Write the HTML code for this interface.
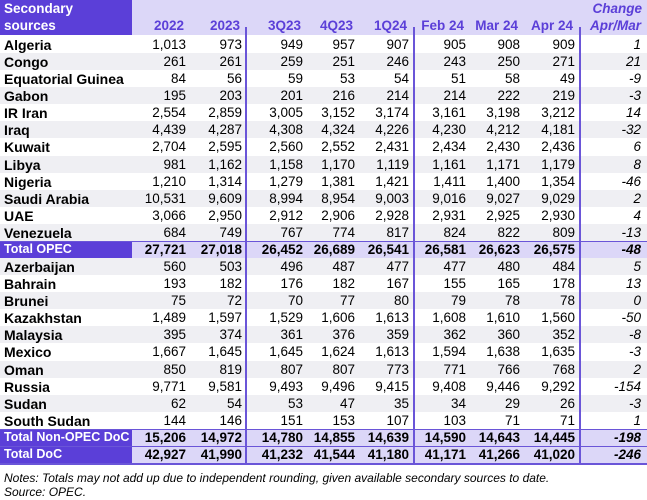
<!DOCTYPE html>
<html><head><meta charset="utf-8"><style>
body{margin:0;width:647px;height:500px;background:#fff;font-family:"Liberation Sans",Arial,sans-serif;position:relative;overflow:hidden}
.a{position:absolute;white-space:nowrap}
#hdr{position:absolute;left:0;top:0;width:647px;height:35px;background:#dcd7f8}
#hdr1{position:absolute;left:0;top:0;width:132px;height:35px;background:#5b3fd8}
.h{color:#5b3fd8;font-weight:bold;font-size:13.5px}
.row{position:absolute;left:0;width:647px}
.nm{font-weight:bold;font-size:14px;color:#000}
.v{font-size:13.5px;color:#000;text-align:right}
.sep{position:absolute;width:1.5px;background:#6a55d8}
</style></head><body>
<div id="hdr"></div>
<div id="hdr1"></div>
<div class="a" style="left:4px;top:1px;color:#fff;font-weight:bold;font-size:13.5px">Secondary</div>
<div class="a" style="left:4px;top:18px;color:#fff;font-weight:bold;font-size:13.5px">sources</div>
<div class="a h" style="right:5px;top:1px;font-style:italic">Change</div>
<div id="body"></div>
<div class="a" style="left:4px;top:471px;font-size:12px;font-style:italic">Notes: Totals may not add up due to independent rounding, given available secondary sources to date.</div>
<div class="a" style="left:4px;top:485px;font-size:12px;font-style:italic">Source: OPEC.</div>
<script>
const headers=["2022","2023","3Q23","4Q23","1Q24","Feb 24","Mar 24","Apr 24","Apr/Mar"];
const names=["Algeria","Congo","Equatorial Guinea","Gabon","IR Iran","Iraq","Kuwait","Libya","Nigeria","Saudi Arabia","UAE","Venezuela","Total  OPEC","Azerbaijan","Bahrain","Brunei","Kazakhstan","Malaysia","Mexico","Oman","Russia","Sudan","South Sudan","Total Non-OPEC DoC","Total DoC"];
const totals=[12,23,24];
const values=[
["1,013","973","949","957","907","905","908","909","1"],
["261","261","259","251","246","243","250","271","21"],
["84","56","59","53","54","51","58","49","-9"],
["195","203","201","216","214","214","222","219","-3"],
["2,554","2,859","3,005","3,152","3,174","3,161","3,198","3,212","14"],
["4,439","4,287","4,308","4,324","4,226","4,230","4,212","4,181","-32"],
["2,704","2,595","2,560","2,552","2,431","2,434","2,430","2,436","6"],
["981","1,162","1,158","1,170","1,119","1,161","1,171","1,179","8"],
["1,210","1,314","1,279","1,381","1,421","1,411","1,400","1,354","-46"],
["10,531","9,609","8,994","8,954","9,003","9,016","9,027","9,029","2"],
["3,066","2,950","2,912","2,906","2,928","2,931","2,925","2,930","4"],
["684","749","767","774","817","824","822","809","-13"],
["27,721","27,018","26,452","26,689","26,541","26,581","26,623","26,575","-48"],
["560","503","496","487","477","477","480","484","5"],
["193","182","176","182","167","155","165","178","13"],
["75","72","70","77","80","79","78","78","0"],
["1,489","1,597","1,529","1,606","1,613","1,608","1,610","1,560","-50"],
["395","374","361","376","359","362","360","352","-8"],
["1,667","1,645","1,645","1,624","1,613","1,594","1,638","1,635","-3"],
["850","819","807","807","773","771","766","768","2"],
["9,771","9,581","9,493","9,496","9,415","9,408","9,446","9,292","-154"],
["62","54","53","47","35","34","29","26","-3"],
["144","146","151","153","107","103","71","71","1"],
["15,206","14,972","14,780","14,855","14,639","14,590","14,643","14,445","-198"],
["42,927","41,990","41,232","41,544","41,180","41,171","41,266","41,020","-246"]];
const rightEdges=[186,242,303,355,409,466,520,575,641];
const top0=36, rh=17.08;
const body=document.getElementById('body');
headers.forEach((h,j)=>{
  const d=document.createElement('div');
  d.className='a h';
  d.style.right=(647-rightEdges[j]+(j===8?0:2))+'px';d.style.top='18px';
  if(j===8)d.style.fontStyle='italic';
  d.textContent=h;
  
  
  body.appendChild(d);
});
names.forEach((n,i)=>{
  const isT=totals.includes(i);
  const r=document.createElement('div');
  r.className='row';
  r.style.top=(top0+i*rh)+'px';r.style.height=rh+'px';
  r.style.background=isT?'#dcd7f8':(i%2===1?'#efeff3':'#fff');
  if(isT){r.style.borderTop='1.5px solid #6a55d8';r.style.boxSizing='border-box';}
  
  
  if(isT){
    const c=document.createElement('div');
    c.className='a';c.style.left='0';c.style.top='0';c.style.width='132px';c.style.height='100%';c.style.background='#5b3fd8';
    
    
    r.appendChild(c);
  }
  const nm=document.createElement('div');
  nm.className='a nm';nm.style.left='4px';nm.style.top=isT?'0px':'1px';
  if(isT){nm.style.color='#fff';nm.style.fontSize='12.5px';}
  nm.textContent=n;
  
  
  r.appendChild(nm);
  values[i].forEach((v,j)=>{
    const c=document.createElement('div');
    c.className='a v';
    c.style.right=(647-rightEdges[j])+'px';c.style.top=isT?'0px':'1px';
    if(isT)c.style.fontWeight='bold';
    if(j===8)c.style.fontStyle='italic';
    c.textContent=v;
    
    
    r.appendChild(c);
  });
  body.appendChild(r);
});
[245,413,579].forEach(x=>{
  const s=document.createElement('div');
  s.className='sep';s.style.left=x+'px';s.style.top='27px';s.style.height=(top0+names.length*rh-27)+'px';
  
  
  body.appendChild(s);
});
const b=document.createElement('div');
b.className='a';b.style.left='0';b.style.width='647px';b.style.top=(top0+names.length*rh)+'px';b.style.height='1.5px';b.style.background='#6a55d8';


body.appendChild(b);
</script>
</body></html>
